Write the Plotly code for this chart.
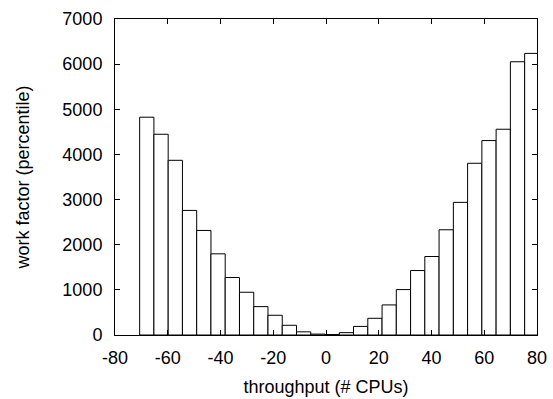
import plotly.graph_objects as go

bin_centers = [-67.95, -62.54, -57.13, -51.73, -46.32, -40.92, -35.51, -30.10,
               -24.70, -19.29, -13.89, -8.48, -3.07, 2.33, 7.74, 13.14, 18.55,
               23.96, 29.36, 34.77, 40.17, 45.58, 50.99, 56.39, 61.80, 67.20,
               72.61, 78.02]
bin_width = 5.406
work_factor = [4825, 4447, 3870, 2760, 2316, 1798, 1273, 947, 629, 437, 215,
               70, 20, 10, 52, 190, 370, 666, 1006, 1428, 1739, 2331, 2938,
               3804, 4307, 4558, 6053, 6238]

x_ticks = [-80, -60, -40, -20, 0, 20, 40, 60, 80]
x_tick_labels = ["-80", "-60", "-40", "-20", "0", "20", "40", "60", "80"]
y_ticks = [0, 1000, 2000, 3000, 4000, 5000, 6000, 7000]
y_tick_labels = ["0", "1000", "2000", "3000", "4000", "5000", "6000", "7000"]

fig = go.Figure(go.Bar(
    x=bin_centers, y=work_factor, width=bin_width,
    marker=dict(color="white", line=dict(color="black", width=1)),
))

font = "Liberation Sans, Arial, sans-serif"
fig.update_layout(
    width=553, height=399,
    margin=dict(l=115, r=16, t=19, b=64),
    plot_bgcolor="white", paper_bgcolor="white",
    showlegend=False,
    font=dict(family=font, size=18, color="black"),
)
fig.update_xaxes(
    range=[-80, 80], tickvals=x_ticks, ticktext=x_tick_labels,
    ticks="inside", ticklen=5, ticklabelstandoff=6, automargin=False,
    tickcolor="black", showline=True, linecolor="black", linewidth=1,
    mirror="ticks", showgrid=False, zeroline=False,
    title=dict(text="throughput (# CPUs)", font=dict(size=18), standoff=13),
)
fig.update_yaxes(
    range=[0, 7000], tickvals=y_ticks, ticktext=y_tick_labels,
    ticks="inside", ticklen=5, ticklabelstandoff=8, automargin=False,
    tickcolor="black", showline=True, linecolor="black", linewidth=1,
    mirror="ticks", showgrid=False, zeroline=False,
    title=dict(text="work factor (percentile)", font=dict(size=18), standoff=28),
)
fig.write_html("out.html")
